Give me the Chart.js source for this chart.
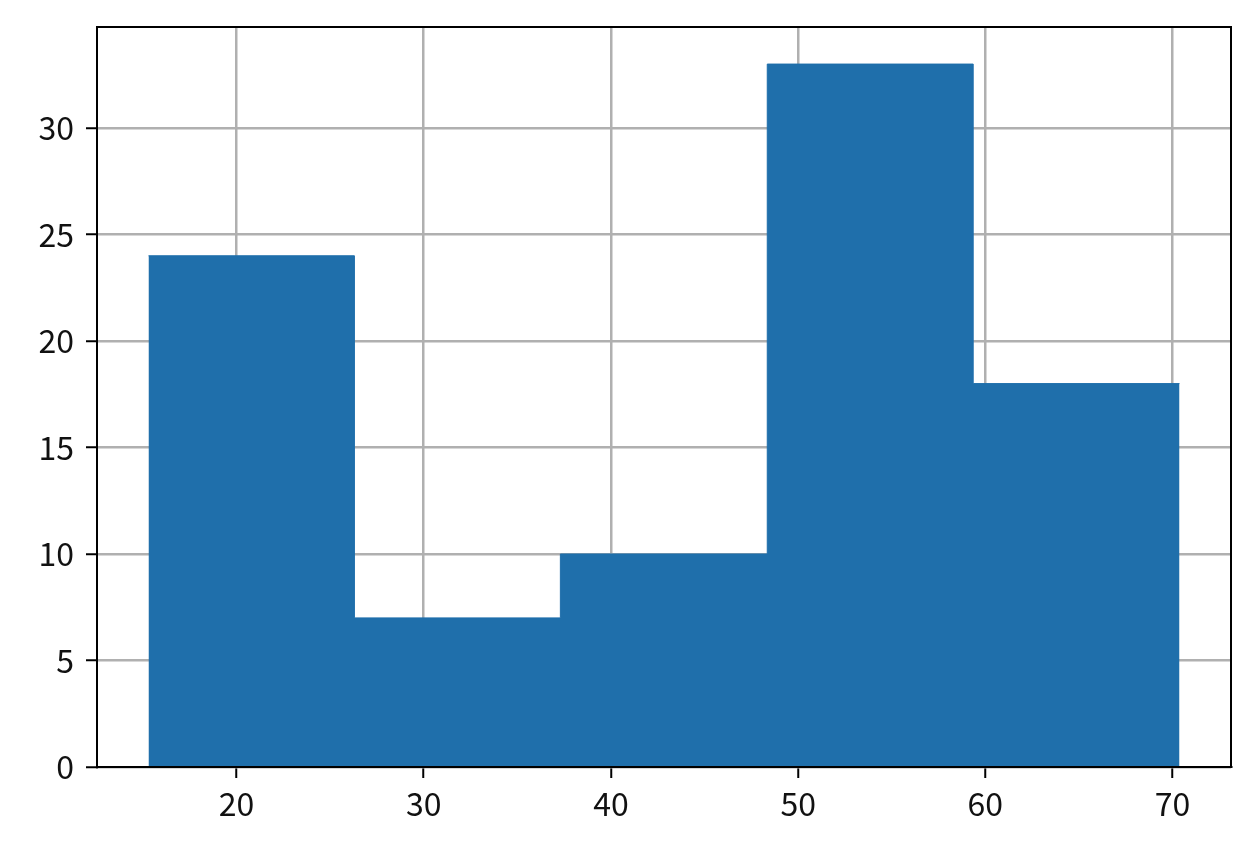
<!DOCTYPE html>
<html>
<head>
<meta charset="utf-8">
<script src="https://cdn.jsdelivr.net/npm/chart.js@4"></script>
<style>
  html, body { margin: 0; padding: 0; background: #fff; }
  #wrap { width: 1256px; height: 848px; }
</style>
</head>
<body>
<div id="wrap"><canvas id="hist"></canvas></div>
<script>
// histogram bins
const binEdges = [15.3, 26.3, 37.3, 48.35, 59.35, 70.37];
const counts = [24, 7, 10, 33, 18];
const xTicks = [20, 30, 40, 50, 60, 70];
const yTicks = [0, 5, 10, 15, 20, 25, 30];

// step points: each edge carries the count of the bin that starts there
const steps = binEdges.map((e, i) => ({ x: e, y: i < counts.length ? counts[i] : counts[counts.length - 1] }));

const frame = {
    id: 'frame',
    afterDraw(chart) {
        const a = chart.chartArea;
        const ctx = chart.ctx;
        ctx.save();
        ctx.strokeStyle = '#000';
        ctx.lineWidth = 2;
        ctx.strokeRect(a.left, a.top, a.right - a.left, a.bottom - a.top);
        ctx.restore();
    }
};

const tickFont = { family: '"Noto Sans CJK KR", "Noto Sans", sans-serif', size: 32 };

new Chart(document.getElementById('hist').getContext('2d'), {
    type: 'line',
    data: {
        datasets: [{
            data: steps,
            stepped: 'before',
            fill: 'origin',
            backgroundColor: '#1f6fab',
            borderColor: '#1f6fab',
            borderWidth: 1,
            pointRadius: 0
        }]
    },
    plugins: [frame],
    options: {
        responsive: true,
        maintainAspectRatio: false,
        animation: false,
        layout: { padding: { left: 0, right: 25, top: 27, bottom: 0 } },
        plugins: {
            legend: { display: false },
            tooltip: { enabled: false }
        },
        scales: {
            x: {
                type: 'linear',
                min: 12.55,
                max: 73.12,
                z: 1,
                afterBuildTicks: (s) => { s.ticks = xTicks.map(v => ({ value: v })); },
                afterFit: (s) => { s.height = 81; s.paddingLeft = 0; s.paddingRight = 0; },
                grid: { color: '#b0b0b0', lineWidth: 2.5, tickColor: '#000', tickLength: 11, tickWidth: 2 },
                border: { color: '#000', width: 2 },
                ticks: { font: tickFont, color: '#111', padding: 7, maxRotation: 0 }
            },
            y: {
                min: 0,
                max: 34.74,
                z: 1,
                afterBuildTicks: (s) => { s.ticks = yTicks.map(v => ({ value: v })); },
                afterFit: (s) => { s.width = 97; s.paddingTop = 0; s.paddingBottom = 0; },
                grid: { color: '#b0b0b0', lineWidth: 2.5, tickColor: '#000', tickLength: 11, tickWidth: 2 },
                border: { color: '#000', width: 2 },
                ticks: { font: tickFont, color: '#111', padding: 12 }
            }
        }
    }
});
</script>
</body>
</html>
